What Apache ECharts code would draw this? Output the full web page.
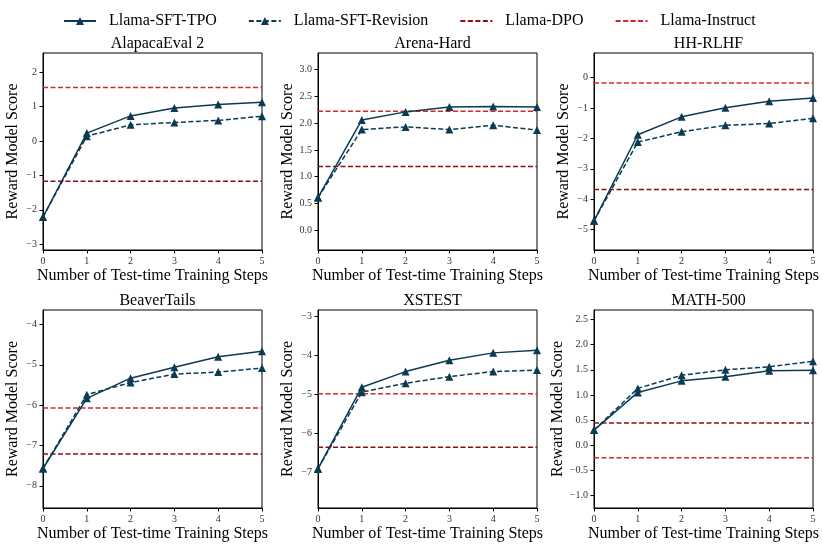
<!DOCTYPE html>
<html>
<head>
<meta charset="utf-8">
<script src="https://cdn.jsdelivr.net/npm/echarts@6/dist/echarts.min.js"></script>
<style>html,body{margin:0;padding:0;background:#fff}#c{width:822px;height:548px}</style>
</head>
<body>
<div id="c"></div>
<script>
// ---- data ----
const steps = [0, 1, 2, 3, 4, 5];
const panelTitles = ['AlapacaEval 2', 'Arena-Hard', 'HH-RLHF', 'BeaverTails', 'XSTEST', 'MATH-500'];
const tpoValues = [
  [-2.21, 0.23, 0.73, 0.96, 1.06, 1.13],
  [0.61, 2.06, 2.21, 2.30, 2.31, 2.30],
  [-4.71, -1.88, -1.29, -0.99, -0.78, -0.67],
  [-7.57, -5.83, -5.33, -5.06, -4.80, -4.66],
  [-6.91, -4.82, -4.42, -4.13, -3.94, -3.87],
  [0.30, 1.05, 1.28, 1.36, 1.48, 1.49]
];
const revisionValues = [
  [-2.21, 0.14, 0.47, 0.54, 0.60, 0.72],
  [0.61, 1.88, 1.93, 1.88, 1.96, 1.87],
  [-4.71, -2.12, -1.78, -1.57, -1.51, -1.34],
  [-7.57, -5.74, -5.44, -5.23, -5.18, -5.08],
  [-6.91, -4.95, -4.72, -4.55, -4.42, -4.38],
  [0.30, 1.13, 1.39, 1.50, 1.56, 1.67]
];
const dpoValues = [-1.17, 1.19, -3.68, -7.21, -6.36, 0.44];
const instructValues = [1.56, 2.22, -0.18, -6.07, -4.99, -0.25];
const yMins = [-3.17, -0.37, -5.67, -8.55, -7.92, -1.25];
const yMaxs = [2.56, 3.31, 0.81, -3.64, -2.84, 2.69];
const yTicks = [
  [-3, -2, -1, 0, 1, 2],
  [0, 0.5, 1, 1.5, 2, 2.5, 3],
  [-5, -4, -3, -2, -1, 0],
  [-8, -7, -6, -5, -4],
  [-7, -6, -5, -4, -3],
  [-1, -0.5, 0, 0.5, 1, 1.5, 2, 2.5]
];
const xTicks = [0, 1, 2, 3, 4, 5];
const seriesNames = ['Llama-SFT-TPO', 'Llama-SFT-Revision', 'Llama-DPO', 'Llama-Instruct'];

// ---- layout / style ----
const FONT = 'Liberation Serif';
const NAVY = '#0b3a53';
const DARKRED = '#8b0f0f';
const RED = '#d62728';
const lefts = [43, 318, 594];
const tops = [53, 310];
const W = 219;
const Hs = [197, 198];
const decimals = [0, 1, 0, 0, 0, 1];

const fmt = (v, d) => {
  const s = Number(v).toFixed(d);
  return s.replace('-', '\u2212');
};

const grid = [], xAxis = [], yAxis = [], title = [], series = [];
for (let i = 0; i < 6; i++) {
  const col = i % 3, row = Math.floor(i / 3);
  grid.push({
    left: lefts[col], top: tops[row], width: W, height: Hs[row],
    show: true, borderColor: '#000', borderWidth: 1, backgroundColor: 'transparent'
  });
  title.push({
    text: panelTitles[i],
    left: lefts[col] + W / 2,
    textAlign: 'center',
    top: tops[row] - 22,
    textStyle: { fontFamily: FONT, fontSize: 16, fontWeight: 'normal', color: '#000' }
  });
  xAxis.push({
    type: 'value', gridIndex: i, min: 0, max: 5, interval: 1,
    name: 'Number of Test-time Training Steps',
    nameLocation: 'middle', nameGap: 18,
    nameTextStyle: { fontFamily: FONT, fontSize: 16, color: '#000' },
    axisLine: { show: true, onZero: false, lineStyle: { color: '#000', width: 1 } },
    axisTick: { show: true, inside: false, length: 3.5, lineStyle: { color: '#000' }, customValues: xTicks },
    axisLabel: { fontFamily: FONT, fontSize: 10, color: '#333', margin: 6, customValues: xTicks,
      formatter: v => fmt(v, 0) },
    splitLine: { show: false }
  });
  yAxis.push({
    type: 'value', gridIndex: i, min: yMins[i], max: yMaxs[i],
    name: 'Reward Model Score',
    nameLocation: 'middle', nameGap: 22, nameRotate: 90,
    nameTextStyle: { fontFamily: FONT, fontSize: 16, color: '#000' },
    axisLine: { show: true, onZero: false, lineStyle: { color: '#000', width: 1 } },
    axisTick: { show: true, inside: false, length: 3.5, lineStyle: { color: '#000' }, customValues: yTicks[i] },
    axisLabel: { fontFamily: FONT, fontSize: 10, color: '#333', margin: 6, customValues: yTicks[i],
      formatter: v => fmt(v, decimals[i]) },
    splitLine: { show: false }
  });
  series.push({
    name: seriesNames[0], type: 'line', xAxisIndex: i, yAxisIndex: i,
    data: steps.map((s, k) => [s, tpoValues[i][k]]),
    symbol: 'triangle', symbolSize: 8, showSymbol: true,
    lineStyle: { color: NAVY, width: 1.5, type: 'solid' },
    itemStyle: { color: NAVY }, z: 4, animation: false
  });
  series.push({
    name: seriesNames[1], type: 'line', xAxisIndex: i, yAxisIndex: i,
    data: steps.map((s, k) => [s, revisionValues[i][k]]),
    symbol: 'triangle', symbolSize: 8, showSymbol: true,
    lineStyle: { color: NAVY, width: 1.5, type: [5, 2.5] },
    itemStyle: { color: NAVY }, z: 4, animation: false
  });
  series.push({
    name: seriesNames[2], type: 'line', xAxisIndex: i, yAxisIndex: i,
    data: [[0, dpoValues[i]], [5, dpoValues[i]]],
    symbol: 'none',
    lineStyle: { color: DARKRED, width: 1.5, type: [5, 2.5] },
    itemStyle: { color: DARKRED }, z: 3, animation: false
  });
  series.push({
    name: seriesNames[3], type: 'line', xAxisIndex: i, yAxisIndex: i,
    data: [[0, instructValues[i]], [5, instructValues[i]]],
    symbol: 'none',
    lineStyle: { color: RED, width: 1.5, type: [5, 2.5] },
    itemStyle: { color: RED }, z: 3, animation: false
  });
}

const chart = echarts.init(document.getElementById('c'), null, { renderer: 'canvas' });
chart.setOption({
  animation: false,
  backgroundColor: '#fff',
  textStyle: { fontFamily: FONT },
  title: title,
  legend: {
    data: [
      { name: seriesNames[0] },
      { name: seriesNames[1] },
      { name: seriesNames[2], itemStyle: { opacity: 0 } },
      { name: seriesNames[3], itemStyle: { opacity: 0 } }
    ],
    top: 8, left: 58,
    itemWidth: 32, itemHeight: 10, itemGap: 31,
    textStyle: { fontFamily: FONT, fontSize: 16, color: '#000', padding: [0, 0, 0, 8] }
  },
  grid: grid,
  xAxis: xAxis,
  yAxis: yAxis,
  series: series
});
</script>
</body>
</html>
